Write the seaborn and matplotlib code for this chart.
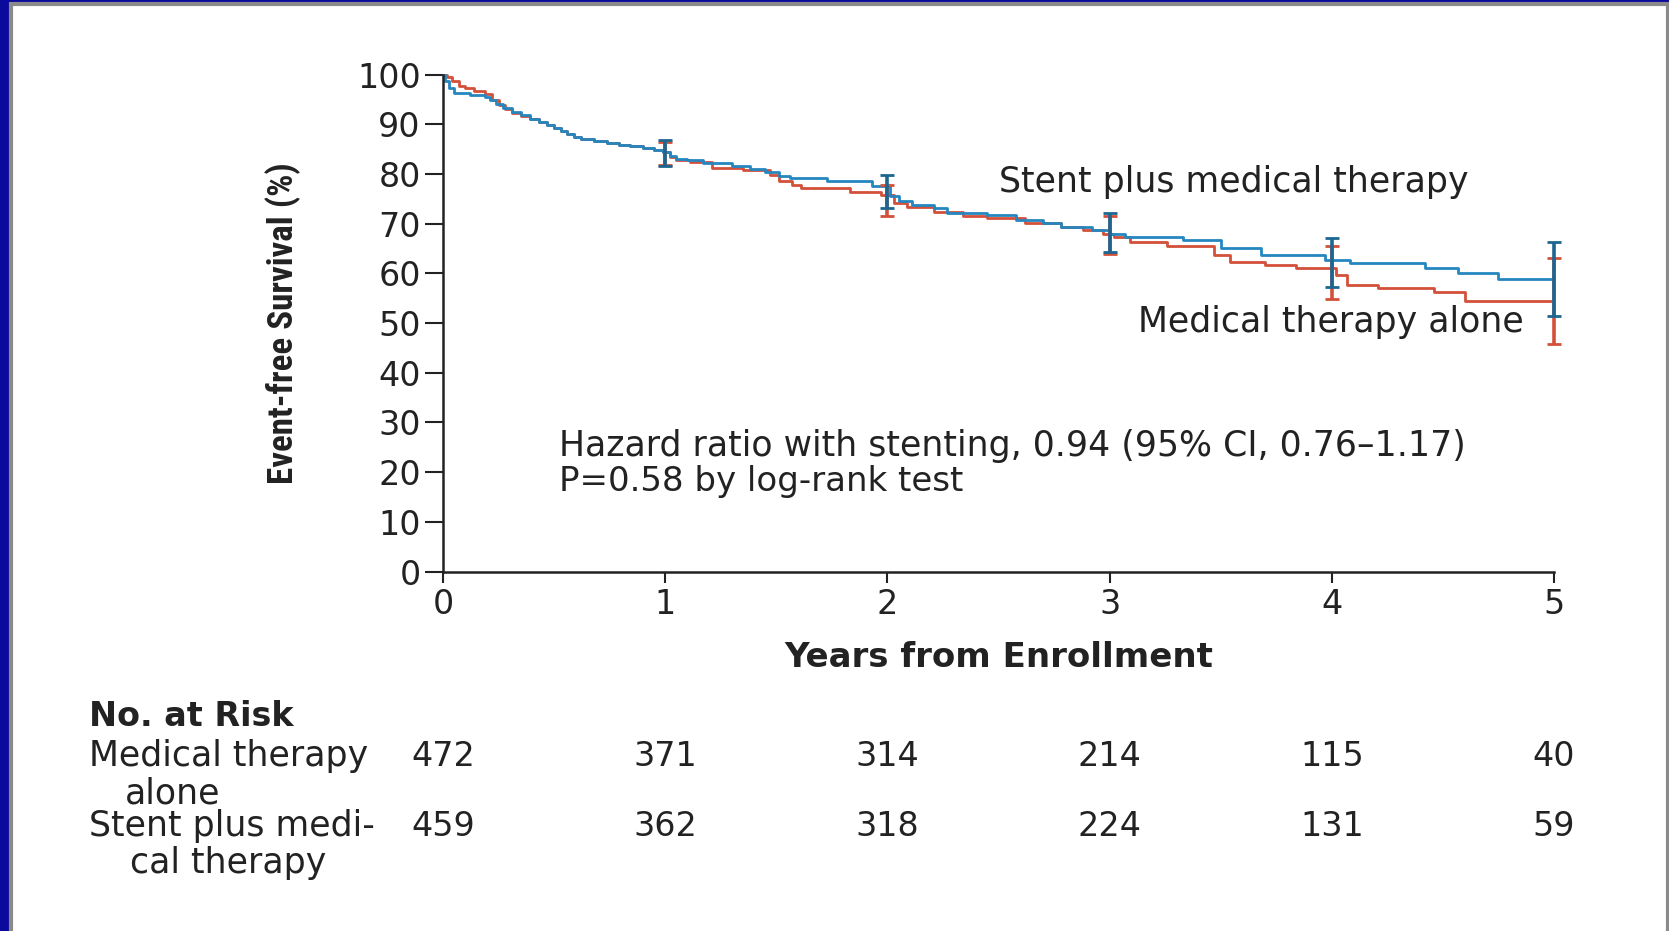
import matplotlib
matplotlib.use("Agg")
import matplotlib.pyplot as plt
import seaborn as sns
import pandas as pd
from matplotlib.patches import Rectangle
from matplotlib import font_manager
from matplotlib.transforms import blended_transform_factory

# Kaplan-Meier step points (years, event-free survival %)
stent_t = [0, 0.01, 0.025, 0.05, 0.12, 0.19, 0.21, 0.24, 0.27, 0.31, 0.35, 0.39, 0.43, 0.47,
           0.50, 0.53, 0.56, 0.59, 0.62, 0.68, 0.74, 0.79, 0.84, 0.90, 0.95, 0.99, 1.02, 1.05,
           1.10, 1.17, 1.30, 1.38, 1.45, 1.51, 1.56, 1.73, 1.93, 2.01, 2.05, 2.11, 2.21, 2.27,
           2.45, 2.58, 2.70, 2.78, 2.92, 3.0, 3.07, 3.33, 3.50, 3.68, 3.97, 4.08, 4.42, 4.57,
           4.75, 5.0]
stent_s = [100, 98.6, 97.2, 96.2, 95.9, 95.5, 94.9, 94.0, 93.2, 92.4, 91.8, 91.1, 90.5, 89.9,
           89.3, 88.6, 88.0, 87.4, 87.0, 86.7, 86.3, 85.9, 85.6, 85.2, 84.8, 84.5, 83.6, 83.0,
           82.7, 82.2, 81.6, 81.0, 80.4, 79.5, 79.2, 78.6, 77.6, 75.6, 74.5, 73.8, 73.1, 72.2,
           71.8, 70.8, 70.1, 69.4, 68.8, 68.0, 67.4, 66.7, 65.0, 63.7, 62.7, 62.0, 61.0, 60.0,
           58.9, 58.9]

med_t = [0, 0.02, 0.04, 0.07, 0.10, 0.14, 0.19, 0.22, 0.25, 0.28, 0.31, 0.35, 0.39, 0.43,
         0.47, 0.50, 0.53, 0.56, 0.59, 0.62, 0.68, 0.74, 0.79, 0.84, 0.90, 0.95, 0.99, 1.02,
         1.05, 1.11, 1.21, 1.35, 1.47, 1.51, 1.57, 1.61, 1.83, 1.97, 2.03, 2.09, 2.21, 2.34,
         2.45, 2.62, 2.78, 2.88, 2.97, 3.02, 3.09, 3.26, 3.47, 3.54, 3.70, 3.84, 4.02, 4.07,
         4.21, 4.46, 4.60, 5.0]
med_s = [100, 99.4, 98.6, 97.6, 97.2, 96.6, 96.0, 94.9, 93.9, 93.0, 92.3, 91.7, 91.1, 90.5,
         89.9, 89.3, 88.6, 88.0, 87.4, 87.0, 86.7, 86.3, 85.9, 85.6, 85.2, 84.8, 84.5, 83.5,
         82.8, 82.4, 81.1, 80.7, 79.8, 78.5, 77.8, 77.1, 76.4, 75.8, 74.1, 73.4, 72.4, 71.6,
         71.1, 70.1, 69.4, 68.8, 68.0, 67.4, 66.4, 65.4, 63.7, 62.3, 61.7, 61.0, 59.7, 57.7,
         57.0, 56.3, 54.5, 54.5]

# 95% confidence intervals at yearly marks
ci_years = [1, 2, 3, 4, 5]
stent_lo = [81.5, 73.2, 64.2, 57.2, 51.4]
stent_hi = [86.9, 79.7, 72.1, 67.2, 66.4]
med_lo = [81.8, 71.5, 63.8, 54.8, 45.8]
med_hi = [86.5, 77.8, 71.5, 65.4, 63.0]

# Numbers at risk
risk_years = [0, 1, 2, 3, 4, 5]
risk_med = [472, 371, 314, 214, 115, 40]
risk_stent = [459, 362, 318, 224, 131, 59]

group_med = "Medical therapy alone"
group_stent = "Stent plus medical therapy"

sns.set_theme(style="white")
plt.rcParams["font.family"] = ["DejaVu Sans"]

# narrow face for the rotated y label, if one is available
available = {f.name for f in font_manager.fontManager.ttflist}
narrow = "DejaVu Sans"
for cand in ["Liberation Sans Narrow", "DejaVu Sans Condensed", "Roboto Condensed",
             "Open Sans Condensed", "Roboto"]:
    if cand in available:
        narrow = cand
        break

BLUE = "#2586c0"
BLUE_DARK = "#1c6690"
RED = "#d3503a"
INK = "#222222"
FS = 24

fig = plt.figure(figsize=(16.69, 9.31), dpi=100)
fig.patch.set_facecolor("#0a0a9c")
# white panel with grey frame (bottom edge runs off the figure)
fig.patches.append(Rectangle((11 / 1669, -0.02), 1 - 12 / 1669, 1.02 - 4 / 931,
                             transform=fig.transFigure, facecolor="white",
                             edgecolor="#8a8a8a", linewidth=3, zorder=-10))

ax = fig.add_axes([443 / 1669, 359.4 / 931, 1111 / 1669, 497.1 / 931])
ax.set_facecolor("white")

df = pd.concat([
    pd.DataFrame({"t": med_t, "s": med_s, "group": group_med}),
    pd.DataFrame({"t": stent_t, "s": stent_s, "group": group_stent}),
], ignore_index=True)

sns.lineplot(data=df, x="t", y="s", hue="group", palette={group_med: RED, group_stent: BLUE},
             estimator=None, sort=False, drawstyle="steps-post", linewidth=2.0,
             legend=False, ax=ax, clip_on=False)

# confidence interval bars
for lo, hi, col, z in [(med_lo, med_hi, RED, 3), (stent_lo, stent_hi, BLUE_DARK, 4)]:
    mid = [(a + b) / 2 for a, b in zip(lo, hi)]
    err = [[m - a for m, a in zip(mid, lo)], [b - m for m, b in zip(mid, hi)]]
    ax.errorbar(ci_years, mid, yerr=err, fmt="none", ecolor=col, elinewidth=2.6,
                capsize=5, capthick=2.0, zorder=z, clip_on=False)

ax.set_xlim(0, 5)
ax.set_ylim(0, 100)
ax.set_xticks(range(0, 6))
ax.set_yticks(range(0, 101, 10))
for side in ["top", "right"]:
    ax.spines[side].set_visible(False)
for side in ["left", "bottom"]:
    ax.spines[side].set_color(INK)
    ax.spines[side].set_linewidth(1.8)
ax.tick_params(axis="y", direction="out", length=13, width=1.5, color=INK,
               labelsize=FS, pad=3, left=True, labelcolor=INK)
ax.tick_params(axis="x", direction="out", length=8, width=1.5, color=INK,
               labelsize=FS, pad=4, bottom=True, labelcolor=INK)

ax.set_xlabel("Years from Enrollment", fontsize=24.5, fontweight="bold", color=INK,
              labelpad=14)
ylab = ax.set_ylabel("Event-free Survival (%)", fontsize=26, fontweight="bold", color=INK,
                     family=narrow)
ax.yaxis.set_label_coords(-0.128, 0.5)

# fit the rotated label to its span along the axis
fig.canvas.draw()
h = ylab.get_window_extent().height
if h > 0:
    ylab.set_fontsize(min(36, 26 * 322 / h))

ax.text(2.50, 78.4, group_stent, fontsize=FS + 1, color=INK, va="center", ha="left")
ax.text(3.13, 50.3, group_med, fontsize=FS + 1, color=INK, va="center", ha="left")
ax.text(0.52, 25.3, "Hazard ratio with stenting, 0.94 (95% CI, 0.76\u20131.17)",
        fontsize=FS + 1, color=INK, va="center", ha="left")
ax.text(0.52, 18.2, "P=0.58 by log-rank test", fontsize=FS + 0.5, color=INK,
        va="center", ha="left")

# number-at-risk table beneath the axis
def fig_y(px):
    return 1 - px / 931

btr = blended_transform_factory(ax.transData, fig.transFigure)
fig.text(89 / 1669, fig_y(717), "No. at Risk", fontsize=FS, fontweight="bold",
         color=INK, va="center", ha="left")
fig.text(89 / 1669, fig_y(756), "Medical therapy", fontsize=FS + 1, color=INK,
         va="center", ha="left")
fig.text(125 / 1669, fig_y(793), "alone", fontsize=FS + 1, color=INK, va="center", ha="left")
fig.text(89 / 1669, fig_y(826), "Stent plus medi-", fontsize=FS + 1, color=INK,
         va="center", ha="left")
fig.text(130 / 1669, fig_y(863), "cal therapy", fontsize=FS + 1, color=INK,
         va="center", ha="left")
for yr, a, b in zip(risk_years, risk_med, risk_stent):
    ax.text(yr, fig_y(756), str(a), transform=btr, fontsize=FS, color=INK,
            ha="center", va="center", clip_on=False)
    ax.text(yr, fig_y(826), str(b), transform=btr, fontsize=FS, color=INK,
            ha="center", va="center", clip_on=False)

fig.savefig("out.png", dpi=100, facecolor=fig.get_facecolor())
